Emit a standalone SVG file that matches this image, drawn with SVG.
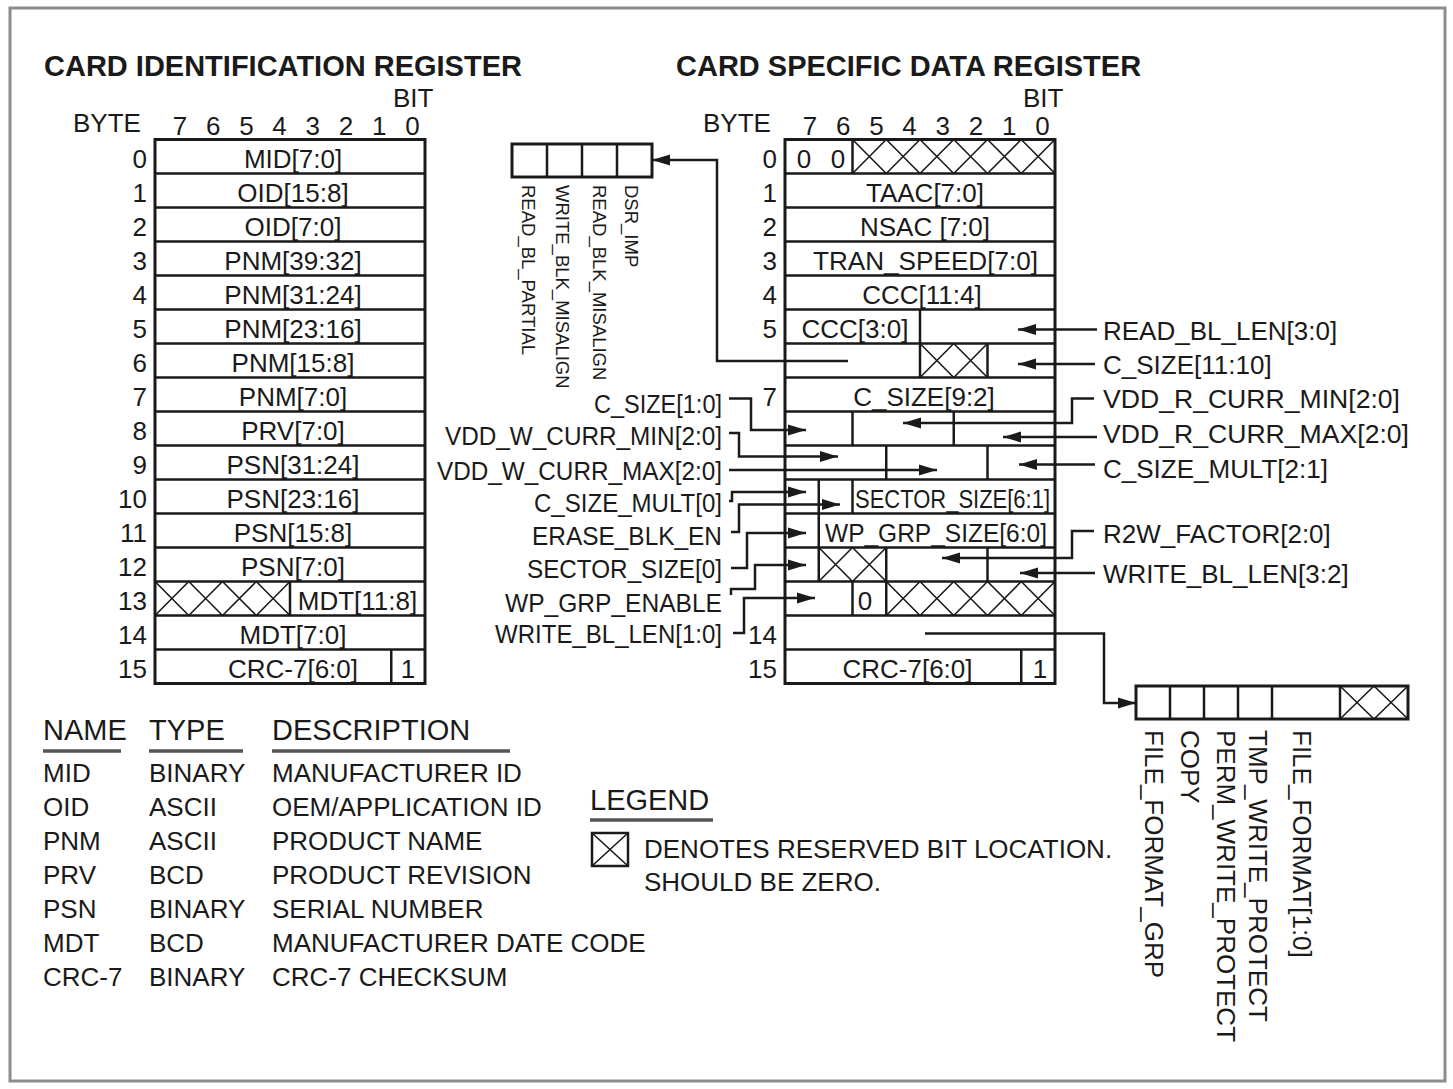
<svg xmlns="http://www.w3.org/2000/svg" width="1453" height="1089" viewBox="0 0 1453 1089">
<defs>
<marker id="ah" markerUnits="userSpaceOnUse" markerWidth="18" markerHeight="12" refX="18" refY="6" orient="auto"><path d="M0,0.5 L18,6 L0,11.5 z" fill="#1a1a1a"/></marker>
</defs>
<style>
text{font-family:"Liberation Sans",Arial,sans-serif;fill:#1a1a1a;font-size:26px}
.c{text-anchor:middle}
.r{text-anchor:end}
.b{font-weight:bold;font-size:29px}
.h{font-size:29px}
.v{font-size:18.5px}
.box{fill:none;stroke:#1a1a1a;stroke-width:3}
.ln{fill:none;stroke:#1a1a1a;stroke-width:2.5}
.x{fill:none;stroke:#1a1a1a;stroke-width:1.6}
.ul{stroke:#555;stroke-width:3.5}
.cn{fill:none;stroke:#1a1a1a;stroke-width:2.5;marker-end:url(#ah)}
</style>
<rect x="0" y="0" width="1453" height="1089" fill="#fff"/>
<rect x="10" y="8" width="1435" height="1073" fill="#fff" stroke="#8c8c8c" stroke-width="3"/>

<g id="cid">
<text x="44" y="76" class="b">CARD IDENTIFICATION REGISTER</text>
<text x="393" y="107">BIT</text>
<text x="73" y="132">BYTE</text>
<g class="c"><text x="180" y="135">7</text><text x="213.2" y="135">6</text><text x="246.4" y="135">5</text><text x="279.6" y="135">4</text><text x="312.8" y="135">3</text><text x="346" y="135">2</text><text x="379.2" y="135">1</text><text x="412.4" y="135">0</text></g>
<rect x="155" y="139.5" width="270" height="544" class="box"/>
<path class="ln" d="M155,173.5H425M155,207.5H425M155,241.5H425M155,275.5H425M155,309.5H425M155,343.5H425M155,377.5H425M155,411.5H425M155,445.5H425M155,479.5H425M155,513.5H425M155,547.5H425M155,581.5H425M155,615.5H425M155,649.5H425M290,581.5V615.5M391.25,649.5V683.5"/>
<path class="x" d="M155,581.5L188.75,615.5M188.75,581.5L155,615.5M188.75,581.5L222.5,615.5M222.5,581.5L188.75,615.5M222.5,581.5L256.25,615.5M256.25,581.5L222.5,615.5M256.25,581.5L290,615.5M290,581.5L256.25,615.5"/>
<g class="r"><text x="147" y="167.5">0</text><text x="147" y="201.5">1</text><text x="147" y="235.5">2</text><text x="147" y="269.5">3</text><text x="147" y="303.5">4</text><text x="147" y="337.5">5</text><text x="147" y="371.5">6</text><text x="147" y="405.5">7</text><text x="147" y="439.5">8</text><text x="147" y="473.5">9</text><text x="147" y="507.5">10</text><text x="147" y="541.5">11</text><text x="147" y="575.5">12</text><text x="147" y="609.5">13</text><text x="147" y="643.5">14</text><text x="147" y="677.5">15</text></g>
<g class="c"><text x="293" y="167.5">MID[7:0]</text><text x="293" y="201.5">OID[15:8]</text><text x="293" y="235.5">OID[7:0]</text><text x="293" y="269.5">PNM[39:32]</text><text x="293" y="303.5">PNM[31:24]</text><text x="293" y="337.5">PNM[23:16]</text><text x="293" y="371.5">PNM[15:8]</text><text x="293" y="405.5">PNM[7:0]</text><text x="293" y="439.5">PRV[7:0]</text><text x="293" y="473.5">PSN[31:24]</text><text x="293" y="507.5">PSN[23:16]</text><text x="293" y="541.5">PSN[15:8]</text><text x="293" y="575.5">PSN[7:0]</text><text x="357.5" y="609.5">MDT[11:8]</text><text x="293" y="643.5">MDT[7:0]</text><text x="293" y="677.5">CRC-7[6:0]</text><text x="408" y="677.5">1</text></g>
</g>

<g id="csd">
<text x="676" y="76" class="b">CARD SPECIFIC DATA REGISTER</text>
<text x="1023" y="107">BIT</text>
<text x="703" y="132">BYTE</text>
<g class="c"><text x="810" y="135">7</text><text x="843.2" y="135">6</text><text x="876.4" y="135">5</text><text x="909.6" y="135">4</text><text x="942.8" y="135">3</text><text x="976" y="135">2</text><text x="1009.2" y="135">1</text><text x="1042.4" y="135">0</text></g>
<rect x="785" y="139.5" width="270" height="544" class="box"/>
<path class="ln" d="M785,173.5H1055M785,207.5H1055M785,241.5H1055M785,275.5H1055M785,309.5H1055M785,343.5H1055M785,377.5H1055M785,411.5H1055M785,445.5H1055M785,479.5H1055M785,513.5H1055M785,547.5H1055M785,581.5H1055M785,615.5H1055M785,649.5H1055
M852.5,139.5V173.5M920,309.5V377.5M987.5,343.5V377.5M852.5,411.5V445.5M953.75,411.5V445.5M886.25,445.5V479.5M987.5,445.5V479.5M818.75,479.5V581.5M852.5,479.5V513.5M886.25,547.5V581.5M987.5,547.5V581.5M852.5,581.5V615.5M886.25,581.5V615.5M1021.25,649.5V683.5"/>
<path class="x" d="M852.5,139.5L886.25,173.5M886.25,139.5L852.5,173.5M886.25,139.5L920,173.5M920,139.5L886.25,173.5M920,139.5L953.75,173.5M953.75,139.5L920,173.5M953.75,139.5L987.5,173.5M987.5,139.5L953.75,173.5M987.5,139.5L1021.25,173.5M1021.25,139.5L987.5,173.5M1021.25,139.5L1055,173.5M1055,139.5L1021.25,173.5
M920,343.5L953.75,377.5M953.75,343.5L920,377.5M953.75,343.5L987.5,377.5M987.5,343.5L953.75,377.5
M818.75,547.5L852.5,581.5M852.5,547.5L818.75,581.5M852.5,547.5L886.25,581.5M886.25,547.5L852.5,581.5
M886.25,581.5L920,615.5M920,581.5L886.25,615.5M920,581.5L953.75,615.5M953.75,581.5L920,615.5M953.75,581.5L987.5,615.5M987.5,581.5L953.75,615.5M987.5,581.5L1021.25,615.5M1021.25,581.5L987.5,615.5M1021.25,581.5L1055,615.5M1055,581.5L1021.25,615.5"/>
<g class="r"><text x="777" y="167.5">0</text><text x="777" y="201.5">1</text><text x="777" y="235.5">2</text><text x="777" y="269.5">3</text><text x="777" y="303.5">4</text><text x="777" y="337.5">5</text><text x="777" y="405.5">7</text><text x="777" y="643.5">14</text><text x="777" y="677.5">15</text></g>
<g class="c"><text x="804" y="167.5">0</text><text x="838" y="167.5">0</text><text x="925" y="201.5">TAAC[7:0]</text><text x="925" y="235.5">NSAC [7:0]</text><text x="925.5" y="269.5" textLength="225" lengthAdjust="spacingAndGlyphs">TRAN_SPEED[7:0]</text><text x="922" y="303.5">CCC[11:4]</text><text x="855" y="337.5">CCC[3:0]</text><text x="924" y="405.5">C_SIZE[9:2]</text><text x="952.5" y="507.5" textLength="195" lengthAdjust="spacingAndGlyphs">SECTOR_SIZE[6:1]</text><text x="936" y="541.5" textLength="222" lengthAdjust="spacingAndGlyphs">WP_GRP_SIZE[6:0]</text><text x="865" y="609.5">0</text><text x="907.5" y="677.5">CRC-7[6:0]</text><text x="1040" y="677.5">1</text></g>
</g>

<g id="dsr-bits">
<rect x="512" y="144" width="140" height="33" class="box"/>
<path class="ln" d="M547,144V177M582,144V177M617,144V177"/>
<text class="v" transform="translate(522.4,185) rotate(90)">READ_BL_PARTIAL</text>
<text class="v" transform="translate(556.4,185) rotate(90)">WRITE_BLK_MISALIGN</text>
<text class="v" transform="translate(593.4,185) rotate(90)">READ_BLK_MISALIGN</text>
<text class="v" transform="translate(625.4,185) rotate(90)">DSR_IMP</text>
</g>

<g id="file-bits">
<rect x="1136" y="686" width="272" height="33" class="box"/>
<path class="ln" d="M1170,686V719M1204,686V719M1238,686V719M1272,686V719M1340,686V719"/>
<path class="x" d="M1340,686L1374,719M1374,686L1340,719M1374,686L1408,719M1408,686L1374,719"/>
<text transform="translate(1144.7,730) rotate(90)">FILE_FORMAT_GRP</text>
<text transform="translate(1180.7,730) rotate(90)">COPY</text>
<text transform="translate(1216.7,730) rotate(90)">PERM_WRITE_PROTECT</text>
<text transform="translate(1248.7,730) rotate(90)">TMP_WRITE_PROTECT</text>
<text transform="translate(1292.7,730) rotate(90)">FILE_FORMAT[1:0]</text>
</g>

<g id="labels-left" class="r">
<text x="722" y="413" textLength="128" lengthAdjust="spacingAndGlyphs">C_SIZE[1:0]</text>
<text x="722" y="445" textLength="277" lengthAdjust="spacingAndGlyphs">VDD_W_CURR_MIN[2:0]</text>
<text x="722" y="480" textLength="285" lengthAdjust="spacingAndGlyphs">VDD_W_CURR_MAX[2:0]</text>
<text x="722" y="512" textLength="188" lengthAdjust="spacingAndGlyphs">C_SIZE_MULT[0]</text>
<text x="722" y="545" textLength="190" lengthAdjust="spacingAndGlyphs">ERASE_BLK_EN</text>
<text x="722" y="578" textLength="195" lengthAdjust="spacingAndGlyphs">SECTOR_SIZE[0]</text>
<text x="722" y="612" textLength="217" lengthAdjust="spacingAndGlyphs">WP_GRP_ENABLE</text>
<text x="722" y="643" textLength="227" lengthAdjust="spacingAndGlyphs">WRITE_BL_LEN[1:0]</text>
</g>

<g id="labels-right">
<text x="1103" y="339.5">READ_BL_LEN[3:0]</text>
<text x="1103" y="374">C_SIZE[11:10]</text>
<text x="1103" y="408" textLength="297" lengthAdjust="spacingAndGlyphs">VDD_R_CURR_MIN[2:0]</text>
<text x="1103" y="443" textLength="306" lengthAdjust="spacingAndGlyphs">VDD_R_CURR_MAX[2:0]</text>
<text x="1103" y="478">C_SIZE_MULT[2:1]</text>
<text x="1103" y="543">R2W_FACTOR[2:0]</text>
<text x="1103" y="583">WRITE_BL_LEN[3:2]</text>
</g>

<g id="connectors">
<path class="cn" d="M848,361H717V160H652"/>
<path class="cn" d="M925,633.5H1104V703H1136"/>
<path class="cn" d="M1097,329.5H1018"/>
<path class="cn" d="M1095,364H1018"/>
<path class="cn" d="M1094,398.5H1072V423H903"/>
<path class="cn" d="M1097,437H1003"/>
<path class="cn" d="M1095,464.5H1019"/>
<path class="cn" d="M1094,531H1072V558H942"/>
<path class="cn" d="M1095,573H1020"/>
<path class="cn" d="M729,398.5H751V430H806"/>
<path class="cn" d="M729,433H739V456.5H838"/>
<path class="cn" d="M729,470H937"/>
<path class="cn" d="M729,501H732V492H806"/>
<path class="cn" d="M731,532H739V504.5H840"/>
<path class="cn" d="M731,568H747V533H806"/>
<path class="cn" d="M731,595V589H755V565H806"/>
<path class="cn" d="M733,633H744V598H815"/>
</g>

<g id="description-table">
<text x="43" y="740" class="h">NAME</text>
<text x="149" y="740" class="h">TYPE</text>
<text x="272" y="740" class="h">DESCRIPTION</text>
<path class="ul" d="M43,751H121M149,751H243M272,751H510"/>
<text x="43" y="782">MID</text><text x="149" y="782">BINARY</text><text x="272" y="782">MANUFACTURER ID</text>
<text x="43" y="816">OID</text><text x="149" y="816">ASCII</text><text x="272" y="816">OEM/APPLICATION ID</text>
<text x="43" y="850">PNM</text><text x="149" y="850">ASCII</text><text x="272" y="850">PRODUCT NAME</text>
<text x="43" y="884">PRV</text><text x="149" y="884">BCD</text><text x="272" y="884">PRODUCT REVISION</text>
<text x="43" y="918">PSN</text><text x="149" y="918">BINARY</text><text x="272" y="918">SERIAL NUMBER</text>
<text x="43" y="952">MDT</text><text x="149" y="952">BCD</text><text x="272" y="952">MANUFACTURER DATE CODE</text>
<text x="43" y="986">CRC-7</text><text x="149" y="986">BINARY</text><text x="272" y="986">CRC-7 CHECKSUM</text>
</g>

<g id="legend">
<text x="590" y="810" class="h">LEGEND</text>
<path class="ul" d="M590,820H713"/>
<rect x="592" y="833" width="36" height="33" fill="none" stroke="#1a1a1a" stroke-width="2.5"/>
<path class="x" d="M592,833L628,866M628,833L592,866"/>
<text x="644" y="858">DENOTES RESERVED BIT LOCATION.</text>
<text x="644" y="891">SHOULD BE ZERO.</text>
</g>
</svg>
